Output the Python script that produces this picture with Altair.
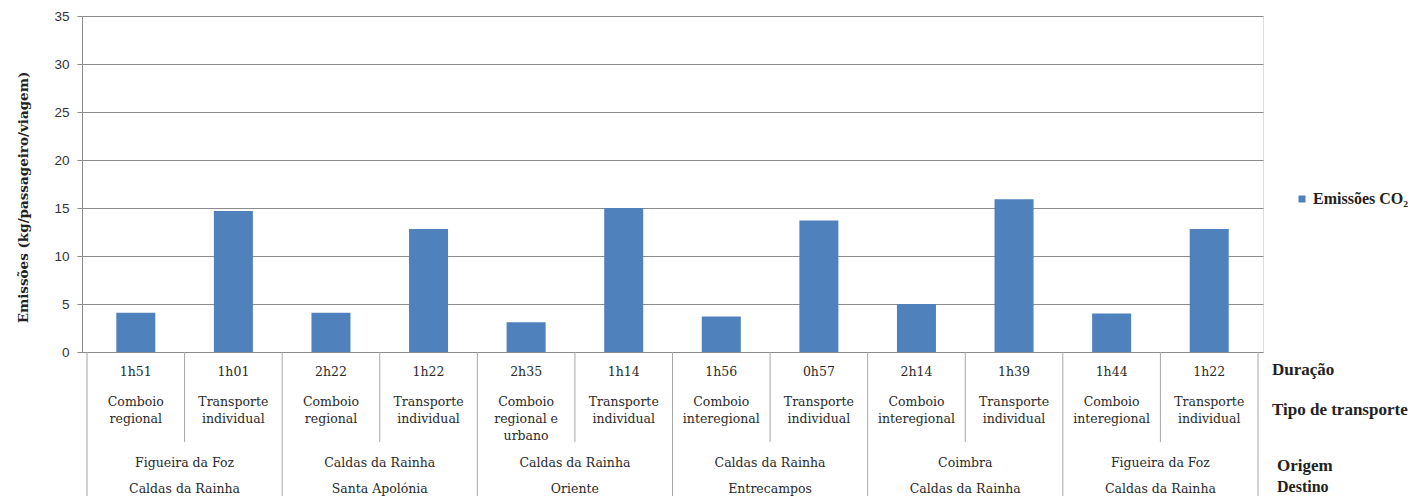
import altair as alt
import pandas as pd

# ---- data ----
emissoes = [4.1, 14.7, 4.1, 12.8, 3.1, 15.0, 3.7, 13.7, 5.0, 15.9, 4.0, 12.8]
duracao = ["1h51", "1h01", "2h22", "1h22", "2h35", "1h14",
           "1h56", "0h57", "2h14", "1h39", "1h44", "1h22"]
tipo = ["Comboio\nregional", "Transporte\nindividual",
        "Comboio\nregional", "Transporte\nindividual",
        "Comboio\nregional e\nurbano", "Transporte\nindividual",
        "Comboio\ninteregional", "Transporte\nindividual",
        "Comboio\ninteregional", "Transporte\nindividual",
        "Comboio\ninteregional", "Transporte\nindividual"]
origem = ["Figueira da Foz", "Caldas da Rainha", "Caldas da Rainha",
          "Caldas da Rainha", "Coimbra", "Figueira da Foz"]
destino = ["Caldas da Rainha", "Santa Apolónia", "Oriente",
           "Entrecampos", "Caldas da Rainha", "Caldas da Rainha"]
niveis = ["Duração", "Tipo de transporte", "Origem", "Destino"]
serie = "Emissões CO₂"

# ---- tables built from the arrays ----
n = len(emissoes)
bars = pd.DataFrame({
    "pos": [i + 0.5 for i in range(n)],
    "valor": emissoes,
    "duracao": duracao,
    "tipo": tipo,
    "serie": [serie] * n,
})
groups = pd.DataFrame({
    "pos": [2 * k + 1 for k in range(len(origem))],
    "origem": origem,
    "destino": destino,
})
sep_inner = pd.DataFrame({"pos": [2 * k + 1 for k in range(len(origem))]})
sep_group = pd.DataFrame({"pos": [2 * k for k in range(len(origem) + 1)]})

W, H = 1181, 336
GRID = "#8C8C8C"
BLUE = "#4F81BD"
SERIF = "DejaVu Serif"
SERIF2 = "Liberation Serif"

xscale = alt.Scale(domain=[0, n], nice=False, zero=False)
x_noaxis = alt.X("pos:Q", scale=xscale, axis=None)

bar = alt.Chart(bars).mark_bar(size=39).encode(
    x=alt.X("pos:Q", scale=xscale,
            axis=alt.Axis(labels=False, ticks=False, grid=False, title=None,
                          domainColor=GRID, domainWidth=1)),
    y=alt.Y("valor:Q",
            scale=alt.Scale(domain=[0, 35], nice=False),
            axis=alt.Axis(values=[0, 5, 10, 15, 20, 25, 30, 35],
                          grid=True, gridColor=GRID, gridWidth=1,
                          domainColor=GRID, tickColor=GRID, tickSize=5,
                          labelFont="Liberation Sans", labelFontSize=13.5,
                          labelColor="#333333", labelPadding=8,
                          title="Emissões (kg/passageiro/viagem)",
                          titleFont=SERIF, titleFontSize=13.5,
                          titleFontWeight="bold", titleColor="#222222",
                          titleX=-59, titleY=181, titleAngle=270,
                          titleAlign="center", titleBaseline="middle")),
    color=alt.Color("serie:N", scale=alt.Scale(range=[BLUE]),
                    legend=alt.Legend(orient="none", legendX=1212, legendY=175,
                                      title=None, symbolType="square",
                                      symbolSize=49, symbolStrokeWidth=0,
                                      labelFont=SERIF2, labelFontSize=16,
                                      labelFontWeight="bold",
                                      labelColor="#222222", labelOffset=3)),
)

rule_inner = alt.Chart(sep_inner).mark_rule(color="#A6A6A6", strokeWidth=1).encode(
    x=x_noaxis, y=alt.value(H), y2=alt.value(426))
rule_group = alt.Chart(sep_group).mark_rule(color="#A6A6A6", strokeWidth=1).encode(
    x=x_noaxis, y=alt.value(H), y2=alt.value(488))

txt_dur = alt.Chart(bars).mark_text(font=SERIF, fontSize=12.5, color="#2A2A2A",
                                    baseline="middle").encode(
    x=x_noaxis, y=alt.value(356), text="duracao:N")
txt_tipo = alt.Chart(bars).mark_text(font=SERIF, fontSize=12.5, color="#2A2A2A",
                                     baseline="alphabetic", lineBreak="\n",
                                     lineHeight=17).encode(
    x=x_noaxis, y=alt.value(390), text="tipo:N")
txt_orig = alt.Chart(groups).mark_text(font=SERIF, fontSize=12.5, color="#2A2A2A",
                                       baseline="middle").encode(
    x=x_noaxis, y=alt.value(447), text="origem:N")
txt_dest = alt.Chart(groups).mark_text(font=SERIF, fontSize=12.5, color="#2A2A2A",
                                       baseline="alphabetic").encode(
    x=x_noaxis, y=alt.value(477), text="destino:N")

lab = pd.DataFrame({"nivel": niveis})
lab_y = [354, 394, 455, 476]
lab_x = [1190, 1190, 1195, 1195]
lab_base = ["middle", "middle", "alphabetic", "alphabetic"]
lab_layers = []
for k, nome in enumerate(niveis):
    lab_layers.append(
        alt.Chart(lab[lab["nivel"] == nome]).mark_text(
            font=SERIF2, fontSize=17 if k < 3 else 16, fontWeight="bold",
            color="#222222", align="left", baseline=lab_base[k]).encode(
            x=alt.value(lab_x[k]), y=alt.value(lab_y[k]), text="nivel:N"))

chart = alt.layer(bar, rule_inner, rule_group, txt_dur, txt_tipo, txt_orig,
                  txt_dest, *lab_layers).properties(
    width=W, height=H,
    autosize=alt.AutoSizeParams(type="none"),
    padding={"left": 74, "top": 8, "right": 149, "bottom": 144},
).configure_view(stroke=None).configure(background="white")

chart.save("out.html", embed_options={"renderer": "svg", "actions": False})
